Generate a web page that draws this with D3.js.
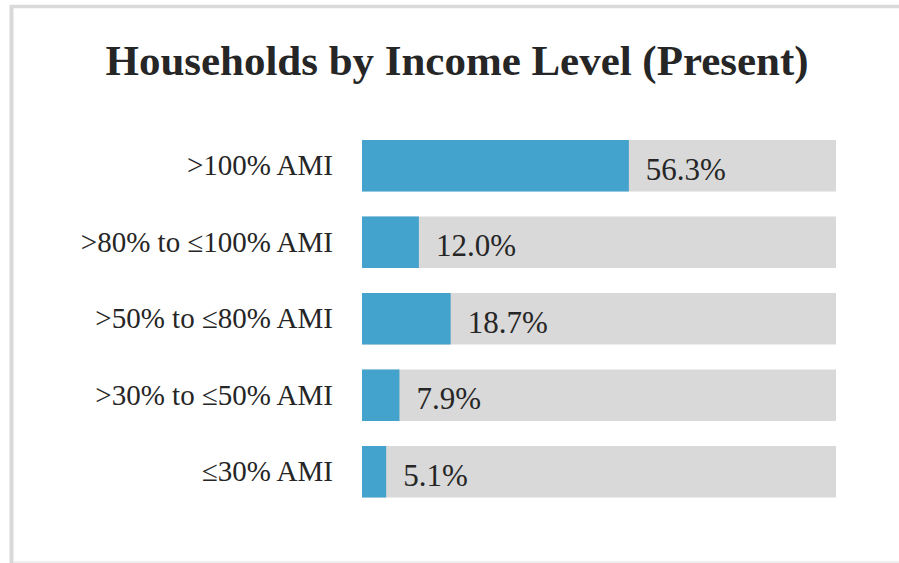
<!DOCTYPE html>
<html>
<head>
<meta charset="utf-8">
<script src="https://cdn.jsdelivr.net/npm/d3@7"></script>
<style>
  body { margin: 0; background: #fff; }
  text { font-family: "Liberation Serif", "DejaVu Serif", serif; fill: #262626; }
</style>
</head>
<body>
<div id="chart"></div>
<script>
(function(d3) {
    'use strict'

    var width = 899;
    var height = 563;

    // data, top row first
    var categories = ['>100% AMI', '>80% to \u2264100% AMI', '>50% to \u226480% AMI', '>30% to \u226450% AMI', '\u226430% AMI'];
    var shares = [56.3, 12.0, 18.7, 7.9, 5.1];
    var title = 'Households by Income Level (Present)';

    var svg = d3.select('#chart')
        .append('svg')
        .attr('width', width)
        .attr('height', height);

    // frame
    svg.append('line')
        .attr('x1', 10).attr('x2', width).attr('y1', 6.5).attr('y2', 6.5)
        .attr('stroke', '#d9d9d9').attr('stroke-width', 3.5);
    svg.append('line')
        .attr('x1', 11.5).attr('x2', 11.5).attr('y1', 5).attr('y2', height)
        .attr('stroke', '#d9d9d9').attr('stroke-width', 4);
    svg.append('line')
        .attr('x1', 14).attr('x2', width).attr('y1', 562).attr('y2', 562)
        .attr('stroke', '#efefef').attr('stroke-width', 2);

    svg.append('text')
        .attr('x', 457)
        .attr('y', 75)
        .attr('text-anchor', 'middle')
        .attr('font-size', 42)
        .attr('font-weight', 'bold')
        .attr('textLength', 703)
        .attr('lengthAdjust', 'spacingAndGlyphs')
        .text(title);

    var x = d3.scaleLinear()
        .domain([0, 100])
        .range([362, 836]);

    var y = d3.scaleBand()
        .domain(categories)
        .range([140, 497.5])
        .paddingInner(0.327)
        .paddingOuter(0);

    var rows = svg.selectAll('g.row')
        .data(categories)
        .enter()
        .append('g')
        .attr('class', 'row');

    rows.append('rect')
        .attr('x', x(0))
        .attr('y', function(d) { return y(d); })
        .attr('width', x(100) - x(0))
        .attr('height', y.bandwidth())
        .attr('fill', '#d9d9d9');

    rows.append('rect')
        .attr('x', x(0))
        .attr('y', function(d) { return y(d); })
        .attr('width', function(d, i) { return x(shares[i]) - x(0); })
        .attr('height', y.bandwidth())
        .attr('fill', '#43a3cc');

    rows.append('text')
        .attr('x', 333)
        .attr('y', function(d) { return y(d) + y.bandwidth() / 2; })
        .attr('dy', '0.33em')
        .attr('text-anchor', 'end')
        .attr('font-size', 29)
        .text(function(d) { return d; });

    rows.append('text')
        .attr('x', function(d, i) { return x(shares[i]) + 17; })
        .attr('y', function(d) { return y(d) + y.bandwidth() / 2; })
        .attr('dy', '0.45em')
        .attr('font-size', 31)
        .text(function(d, i) { return shares[i].toFixed(1) + '%'; });

})(window.d3);
</script>
</body>
</html>
